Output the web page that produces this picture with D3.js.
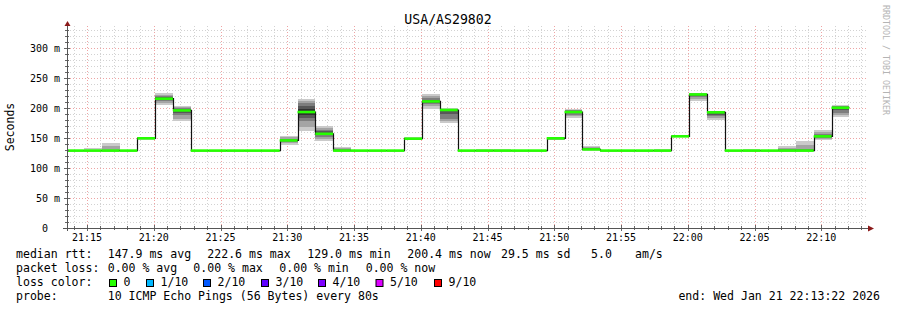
<!DOCTYPE html>
<html>
<head>
<meta charset="utf-8">
<script src="https://cdn.jsdelivr.net/npm/d3@7/dist/d3.min.js"></script>
<style>
body{margin:0;background:#fff;}
svg text{font-family:"DejaVu Sans Mono",monospace;fill:#000;}
</style>
</head>
<body>
<svg id="chart" width="897" height="310"></svg>
<script>
// --- data (ms) ---
var title = "USA/AS29802";
var stepStart = "21:13:26";   // first 80s sample (clipped at left edge)
var stepSeconds = 80;
var viewStart = "21:13:30";
var viewEnd = "22:13:30";

var medians = [129,129,129,129,149.5,215.5,196,129,129,129,
               129,129,146,193.3,157,129,129,129,129,148.9,
               211,196.7,129,129,129,129,129,149.5,193.3,131,
               129,129,129,129,152.8,222.6,192.8,129,129,129,
               129,129,152.8,200.4,null];

var pings = [
  [129,129,129,129,129,129,129,129,129,129.4],
  [129,129,129,129,129,129,129,129,130,133],
  [129,129,129,129,129,129,129,129,136,142],
  [129,129,129,129,129,129,129,129,129,129.4],
  [147.5,148,149,149.2,149.4,149.6,150,150.5,151,152],
  [205.5,208,211,213,215,216,218,220,222,225],
  [178.8,182,188,192,195,197,199,200.5,201.5,202.8],
  [129,129,129,129,129,129,129,129,129,129],
  [129,129,129,129,129,129,129,129,129,129],
  [129,129,129,129,129,129,129,129,129,129],
  [129,129,129,129,129,129,129,129,129,129],
  [129,129,129,129,129,129,129,129,129,129],
  [138,141,143,145,146,146,147,149,151,154],
  [162,168,178,184,188,198.6,204,208,212,215],
  [144.5,148,152,155,156,158,161,164,167,170],
  [129,129,129,129,129,129,130,131,133,134.5],
  [129,129,129,129,129,129,129,129,129,129],
  [129,129,129,129,129,129,129,129,129,129],
  [129,129,129,129,129,129,129,129,129,129],
  [146,147,148,148.5,148.8,149,149.3,149.6,150,151],
  [199,203,206,209,210,212,214,217,220,223],
  [175.6,178,182,190,196,197.4,198,198.5,199,199.5],
  [129,129,129,129,129,129,129,129,129,129],
  [129,129,129,129,129,129,129,129,130,131.7],
  [129,129,129,129,129,129,129,129,130,131.7],
  [129,129,129,129,129,129,129,129,129,129],
  [129,129,129,129,129,129,129,129,129,129],
  [146,147,148,149,149.3,149.7,150,150.5,151,152],
  [183,186,189,191,193,193.6,195,196,197.5,199],
  [129,129.5,130,130.5,131,131,132,133,135,136.7],
  [129,129,129,129,129,129,129,129,129,129],
  [129,129,129,129,129,129,129,129,129,129],
  [129,129,129,129,129,129,129,129,129,129],
  [129,129,129,129,129,129,129,129,130,131],
  [151,151.5,152,152.5,152.8,152.8,153,153.5,154,155],
  [212,215,218,220.5,222,223.2,223.5,223.8,224,224.5],
  [180.5,183,186,189,192,193.6,194.3,194.8,195.2,195.6],
  [129,129,129,129,129,129,129,129,129,129],
  [129,129,129,129,129,129,129,129,130,131.7],
  [129,129,129,129,129,129,129,129,129,129],
  [129,129,129,129,129,129,130,131,133,136.7],
  [129,129,129,129,129,129,130,132,138,145.6],
  [147,149,150.5,152,152.6,153,155,157,160,163],
  [185,188,192,196,199.5,201.3,202.5,203.3,204,204.4],
  null
];

var yTicks = [0,50,100,150,200,250,300];
var smokeShades = ["#cacaca","#a4a4a4","#7e7e7e","#585858","#323232"];
var lossLabels = ["0","1/10","2/10","3/10","4/10","5/10","9/10"];
var lossColors = ["#26ff00","#00b8ff","#0059ff","#5e00ff","#7e00ff","#dd00ff","#ff0000"];

var rttLabel = "median rtt:";
var rttStats = ["147.9 ms avg","222.6 ms max","129.0 ms min","200.4 ms now","29.5 ms sd","5.0","am/s"];
var lossLabel = "packet loss:";
var lossStats = ["0.00 % avg","0.00 % max","0.00 % min","0.00 % now"];
var probeText = "10 ICMP Echo Pings (56 Bytes) every 80s";
var endText = "end: Wed Jan 21 22:13:22 2026";

// --- drawing ---
var svg = d3.select("#chart");
var parse = d3.timeParse("%H:%M:%S");
var plotL = 67, plotR = 868, plotT = 26, plotB = 228;

var x = d3.scaleTime().domain([parse(viewStart), parse(viewEnd)]).range([plotL, plotR]);
var y = d3.scaleLinear().domain([0, 336.7]).range([plotB, plotT]);

var t0 = parse(stepStart);
function stepTime(j){ return d3.timeSecond.offset(t0, j * stepSeconds); }

svg.append("defs").append("clipPath").attr("id","plotClip")
	.append("rect").attr("x", plotL).attr("y", plotT - 4).attr("width", plotR - plotL).attr("height", plotB - plotT + 4);

// grid
var grid = svg.append("g");
var minorY = y.ticks(34).filter(function(v){ return v % 50 != 0; });
var minorX = d3.timeMinute.every(1).range(x.domain()[0], x.domain()[1]).filter(function(d){ return d.getMinutes() % 5 != 0; });
var majorX = d3.timeMinute.every(5).range(x.domain()[0], x.domain()[1]);

grid.selectAll(".gy").data(minorY).enter().append("line")
	.attr("x1", plotL).attr("x2", plotR)
	.attr("y1", function(d){ return Math.round(y(d)) + 0.5; })
	.attr("y2", function(d){ return Math.round(y(d)) + 0.5; })
	.attr("stroke", "#d2d2d2").attr("stroke-dasharray", "1,2");
grid.selectAll(".gx").data(minorX).enter().append("line")
	.attr("y1", plotT).attr("y2", plotB)
	.attr("x1", function(d){ return Math.round(x(d)) + 0.5; })
	.attr("x2", function(d){ return Math.round(x(d)) + 0.5; })
	.attr("stroke", "#d2d2d2").attr("stroke-dasharray", "1,2");
grid.selectAll(".my").data(yTicks.slice(1)).enter().append("line")
	.attr("x1", plotL).attr("x2", plotR)
	.attr("y1", function(d){ return Math.round(y(d)) + 0.5; })
	.attr("y2", function(d){ return Math.round(y(d)) + 0.5; })
	.attr("stroke", "#eea4a4").attr("stroke-dasharray", "1,2");
grid.selectAll(".mx").data(majorX).enter().append("line")
	.attr("y1", plotT).attr("y2", plotB)
	.attr("x1", function(d){ return Math.round(x(d)) + 0.5; })
	.attr("x2", function(d){ return Math.round(x(d)) + 0.5; })
	.attr("stroke", "#eea4a4").attr("stroke-dasharray", "1,2");

// smoke
var plot = svg.append("g").attr("clip-path", "url(#plotClip)");
pings.forEach(function(p, j){
	if(!p) return;
	for (var i = 0; i < 5; i++) {
		var yTop = y(p[9 - i]), yBot = y(p[i]);
		if (yBot - yTop < 0.3) continue;
		plot.append("rect")
			.attr("x", x(stepTime(j))).attr("width", x(stepTime(j + 1)) - x(stepTime(j)))
			.attr("y", yTop).attr("height", yBot - yTop)
			.attr("fill", smokeShades[i])
			.attr("shape-rendering", "crispEdges");
	}
});

// median step line
var pts = [];
medians.forEach(function(m, j){ if (m != null) pts.push({t: stepTime(j), v: m, j: j}); });
var last = pts[pts.length - 1];
pts.push({t: stepTime(last.j + 1), v: last.v});
plot.append("path")
	.attr("d", d3.line().x(function(d){ return Math.round(x(d.t)) + 0.5; }).y(function(d){ return y(d.v); }).curve(d3.curveStepAfter)(pts))
	.attr("fill", "none").attr("stroke", "#111").attr("stroke-width", 1.2);

// loss-coloured median band (all samples 0 loss)
medians.forEach(function(m, j){
	if (m == null) return;
	plot.append("rect")
		.attr("x", x(stepTime(j))).attr("width", x(stepTime(j + 1)) - x(stepTime(j)))
		.attr("y", y(m) - 1.3).attr("height", 2.6)
		.attr("fill", lossColors[0]);
});

// axes
var ax = svg.append("g");
ax.selectAll(".ty").data(y.ticks(34)).enter().append("line")
	.attr("x1", function(d){ return d % 50 == 0 ? plotL - 3 : plotL - 2; })
	.attr("x2", function(d){ return d % 50 == 0 ? plotL + 3 : plotL + 2; })
	.attr("y1", function(d){ return Math.round(y(d)) + 0.5; })
	.attr("y2", function(d){ return Math.round(y(d)) + 0.5; })
	.attr("stroke", "#666");
ax.selectAll(".tx").data(minorX.concat(majorX)).enter().append("line")
	.attr("y1", function(d){ return d.getMinutes() % 5 == 0 ? plotB - 3 : plotB - 2; })
	.attr("y2", function(d){ return d.getMinutes() % 5 == 0 ? plotB + 3 : plotB + 2; })
	.attr("x1", function(d){ return Math.round(x(d)) + 0.5; })
	.attr("x2", function(d){ return Math.round(x(d)) + 0.5; })
	.attr("stroke", "#666");
ax.append("line").attr("x1", plotL + 0.5).attr("x2", plotL + 0.5).attr("y1", plotB + 3).attr("y2", plotT - 3)
	.attr("stroke", "#555");
ax.append("line").attr("x1", plotL - 4).attr("x2", plotR + 1).attr("y1", plotB + 0.5).attr("y2", plotB + 0.5)
	.attr("stroke", "#555");
ax.append("path").attr("d", "M" + (plotL - 2.5) + "," + plotT + "L" + (plotL + 3.5) + "," + plotT + "L" + (plotL + 0.5) + "," + (plotT - 5) + "Z")
	.attr("fill", "#8b1a1a");
ax.append("path").attr("d", "M" + plotR + "," + (plotB - 2.5) + "L" + plotR + "," + (plotB + 3.5) + "L" + (plotR + 6) + "," + (plotB + 0.5) + "Z")
	.attr("fill", "#8b1a1a");

// tick labels
svg.append("g").selectAll("text").data(yTicks).enter().append("text")
	.attr("x", function(d){ return d == 0 ? 48 : 60; })
	.attr("y", function(d){ return y(d) + 3.7; })
	.attr("text-anchor", "end").style("font-size", "10px")
	.text(function(d){ return d == 0 ? "0" : d + " m"; });
svg.append("g").selectAll("text").data(majorX).enter().append("text")
	.attr("x", function(d){ return x(d); })
	.attr("y", 241)
	.attr("text-anchor", "middle").style("font-size", "10px")
	.text(d3.timeFormat("%H:%M"));

// titles
svg.append("text").attr("x", 448).attr("y", 24).attr("text-anchor", "middle")
	.style("font-size", "13.2px").text(title);
svg.append("text").attr("transform", "translate(14,127) rotate(-90)").attr("text-anchor", "middle")
	.style("font-size", "11.5px").text("Seconds");
svg.append("text").attr("transform", "translate(883,5) rotate(90)")
	.style("font-size", "8.3px").style("fill", "#b4b4b4").text("RRDTOOL / TOBI OETIKER");

// legend
var leg = svg.append("g").style("font-size", "11.55px");
var rttX = [107.7, 207.3, 307.3, 407.3, 501, 591, 635];
leg.append("text").attr("x", 16).attr("y", 258).text(rttLabel);
rttStats.forEach(function(s, i){ leg.append("text").attr("x", rttX[i]).attr("y", 258).text(s); });
var lossX = [107.7, 193.3, 279.3, 365.7];
leg.append("text").attr("x", 16).attr("y", 272).text(lossLabel);
lossStats.forEach(function(s, i){ leg.append("text").attr("x", lossX[i]).attr("y", 272).text(s); });
var boxX = [109, 146, 203, 261, 318, 375.5, 434];
leg.append("text").attr("x", 16).attr("y", 286).text("loss color:");
lossLabels.forEach(function(s, i){
	leg.append("rect").attr("x", boxX[i] + 0.5).attr("y", 279.5).attr("width", 7).attr("height", 7)
		.attr("fill", lossColors[i]).attr("stroke", "#000").attr("stroke-width", 1);
	leg.append("text").attr("x", boxX[i] + 14.5).attr("y", 286).text(s);
});
leg.append("text").attr("x", 16).attr("y", 300).text("probe:");
leg.append("text").attr("x", 107.7).attr("y", 300).text(probeText);
leg.append("text").attr("x", 880).attr("y", 300).attr("text-anchor", "end").text(endText);
</script>
</body>
</html>
